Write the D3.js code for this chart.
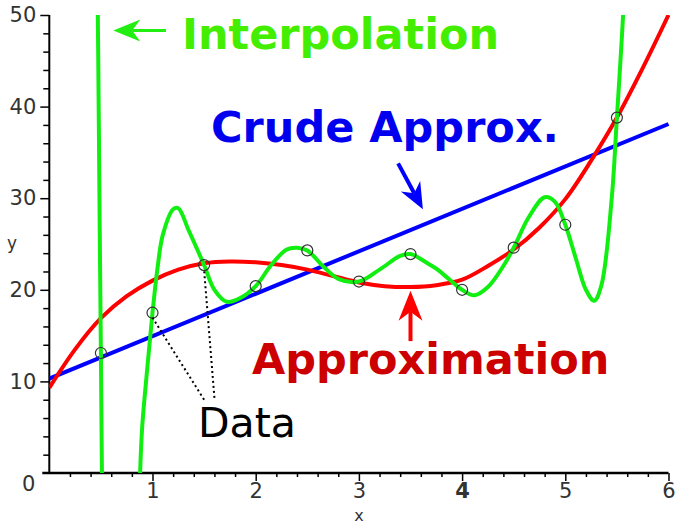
<!DOCTYPE html>
<html>
<head>
<meta charset="utf-8">
<script src="https://cdn.jsdelivr.net/npm/d3@7"></script>
<style>
body { margin: 0; background: #fff; }
.tick text { font-family: "DejaVu Sans", sans-serif; }
</style>
</head>
<body>
<div id="chart"></div>
<script>
// data points (circles)
var dataX = [0.5, 1, 1.5, 2, 2.5, 3, 3.5, 4, 4.5, 5, 5.5];
var dataY = [13.1, 17.5, 22.7, 20.4, 24.3, 20.9, 23.9, 20.0, 24.6, 27.1, 38.8];

// crude approx (straight line)
var crudeX = [0, 6];
var crudeY = [10.3, 38.1];

// approximation curve
var approxX = [0, 0.25, 0.5, 0.75, 1, 1.25, 1.5, 1.75, 2, 2.25, 2.5, 2.75, 3, 3.25, 3.5, 3.75, 4, 4.25, 4.5, 4.75, 5, 5.25, 5.5, 5.75, 6];
var approxY = [9.3, 13.5, 16.9, 19.3, 21.0, 22.2, 22.9, 23.1, 23.0, 22.7, 22.2, 21.5, 20.8, 20.4, 20.3, 20.5, 21.1, 22.6, 24.4, 26.8, 29.9, 34.1, 38.8, 44.2, 50.0];

// interpolation curve
var interpX = [0.455, 0.47, 0.48, 0.49, 0.5, 0.51, 0.52, 0.86, 0.88, 0.9, 0.95, 1.0, 1.05, 1.1, 1.2, 1.25, 1.35, 1.5, 1.6, 1.72, 1.85, 2.0, 2.15, 2.3, 2.4, 2.5, 2.65, 2.8, 3.0, 3.2, 3.4, 3.5, 3.65, 3.75, 3.88, 4.0, 4.12, 4.25, 4.4, 4.5, 4.65, 4.8, 4.9, 5.0, 5.1, 5.2, 5.28, 5.35, 5.45, 5.5, 5.56, 5.58];
var interpY = [62, 50, 38, 25, 13.1, 0, -10, -10, 0, 5, 11.5, 17.5, 22.5, 26.0, 28.8, 28.9, 26.5, 22.7, 20.0, 18.7, 19.1, 20.4, 22.7, 24.4, 24.6, 24.3, 22.6, 21.2, 20.9, 22.2, 23.7, 23.9, 23.0, 22.3, 21.1, 20.0, 19.4, 20.3, 22.6, 24.6, 28.0, 30.1, 29.6, 27.1, 23.5, 20.0, 18.8, 20.5, 30.0, 38.8, 50, 56];

var xTickLabels = ["1", "2", "3", "4", "5", "6"];
var yTickLabels = ["10", "20", "30", "40", "50"];

var svg = d3.select("#chart").append("svg").attr("width", 675).attr("height", 524);

var x = d3.scaleLinear().domain([0, 6]).range([49.3, 668.5]);
var y = d3.scaleLinear().domain([0, 50]).range([473, 15]);

svg.append("clipPath").attr("id", "plot-clip")
    .append("rect")
    .attr("x", x(0)).attr("y", y(50))
    .attr("width", x(6) - x(0) + 4).attr("height", y(0) - y(50));

// axes
var gx = svg.append("g").attr("transform", `translate(0,${y(0)})`);
gx.call(d3.axisBottom(x).tickValues(d3.range(1, 30).map(i => i / 5).filter(v => Math.abs(v - Math.round(v)) > 1e-6)).tickSize(4).tickFormat(""));
gx.call(g => g.select(".domain").remove());
var gx2 = svg.append("g").attr("transform", `translate(0,${y(0)})`);
gx2.call(d3.axisBottom(x).tickValues([1, 2, 3, 4, 5, 6]).tickSize(8).tickPadding(2).tickFormat((d, i) => xTickLabels[i]));
gx2.call(g => g.select(".domain").remove());
gx2.selectAll("text").attr("font-size", 21).attr("fill", "#333").attr("font-weight", d => d === 4 ? "bold" : "normal");

var gy = svg.append("g").attr("transform", `translate(${x(0)},0)`);
gy.call(d3.axisLeft(y).tickValues(d3.range(2, 50, 2).filter(v => v % 10 !== 0)).tickSize(6).tickFormat(""));
gy.call(g => g.select(".domain").remove());
var gy2 = svg.append("g").attr("transform", `translate(${x(0)},0)`);
gy2.call(d3.axisLeft(y).tickValues([10, 20, 30, 40, 50]).tickSize(9).tickPadding(4).tickFormat((d, i) => yTickLabels[i]));
gy2.call(g => g.select(".domain").remove());
gy2.selectAll("text").attr("font-size", 21).attr("fill", "#333");
svg.selectAll(".tick line").attr("stroke", "#000").attr("stroke-width", 1.5);

svg.append("line").attr("x1", x(0) - 7).attr("x2", x(6)).attr("y1", y(0)).attr("y2", y(0))
    .attr("stroke", "#000").attr("stroke-width", 2.5);
svg.append("line").attr("x1", x(0)).attr("x2", x(0)).attr("y1", y(50)).attr("y2", y(0))
    .attr("stroke", "#000").attr("stroke-width", 2);

svg.append("text").attr("x", x(0) - 14).attr("y", y(0) + 18).attr("text-anchor", "end")
    .attr("font-family", "DejaVu Sans, sans-serif").attr("font-size", 21).attr("fill", "#333").text("0");
svg.append("text").attr("x", (x(0) + x(6)) / 2).attr("y", 521).attr("text-anchor", "middle")
    .attr("font-family", "DejaVu Sans, sans-serif").attr("font-size", 16).attr("fill", "#333").text("x");
svg.append("text").attr("x", 12).attr("y", y(25) + 5).attr("text-anchor", "middle")
    .attr("font-family", "DejaVu Sans, sans-serif").attr("font-size", 17).attr("fill", "#333").text("y");

// curves
var line = d3.line().x(d => x(d[0])).y(d => y(d[1])).curve(d3.curveCatmullRom.alpha(0.5));
var plot = svg.append("g").attr("clip-path", "url(#plot-clip)");

plot.append("path").datum(d3.zip(crudeX, crudeY)).attr("d", line)
    .attr("fill", "none").attr("stroke", "#0000ff").attr("stroke-width", 4);
plot.append("path").datum(d3.zip(approxX, approxY)).attr("d", line)
    .attr("fill", "none").attr("stroke", "#ff0000").attr("stroke-width", 4);
plot.append("path").datum(d3.zip(interpX, interpY)).attr("d", line)
    .attr("fill", "none").attr("stroke", "#11ee11").attr("stroke-width", 4);

svg.append("g").selectAll("circle").data(d3.zip(dataX, dataY)).enter().append("circle")
    .attr("cx", d => x(d[0])).attr("cy", d => y(d[1])).attr("r", 5.5)
    .attr("fill", "none").attr("stroke", "#333").attr("stroke-width", 1.2);

// "Data" pointers
[[1, 17.5], [1.5, 22.7]].forEach(function(p, i) {
    var tx = [1.5, 1.6][i], ty = [8.0, 8.2][i];
    svg.append("line")
        .attr("x1", x(tx)).attr("y1", y(ty))
        .attr("x2", x(p[0])).attr("y2", y(p[1]) + 5)
        .attr("stroke", "#000").attr("stroke-width", 2).attr("stroke-dasharray", "2,3");
});

// arrows
function arrow(x1, y1, x2, y2, color, w, headLen, headW) {
    var ang = Math.atan2(y2 - y1, x2 - x1);
    var c = Math.cos(ang), s = Math.sin(ang);
    var bx = x2 - headLen * c, by = y2 - headLen * s;
    var mx = x2 - headLen * 0.7 * c, my = y2 - headLen * 0.7 * s;
    svg.append("line").attr("x1", x1).attr("y1", y1).attr("x2", mx).attr("y2", my)
        .attr("stroke", color).attr("stroke-width", w);
    svg.append("path")
        .attr("d", `M${x2},${y2}L${bx - headW * s},${by + headW * c}L${mx},${my}L${bx + headW * s},${by - headW * c}Z`)
        .attr("fill", color);
}
arrow(x(1.13), y(48.3), x(0.62), y(48.3), "#22ee11", 3, 27, 11);
arrow(x(3.38), y(33.8), x(3.62), y(28.8), "#0000ff", 4, 26, 11);
arrow(x(3.5), y(14.4), x(3.5), y(19.9), "#ff0000", 4, 30, 12);

// labels
svg.append("text").attr("x", 182).attr("y", 49)
    .attr("font-family", "DejaVu Sans, sans-serif").attr("font-weight", "bold").attr("font-size", 43)
    .attr("fill", "#44ee00").text("Interpolation");
svg.append("text").attr("x", 211).attr("y", 142)
    .attr("font-family", "DejaVu Sans, sans-serif").attr("font-weight", "bold").attr("font-size", 43)
    .attr("fill", "#0000ee").text("Crude Approx.");
svg.append("text").attr("x", 252).attr("y", 374)
    .attr("font-family", "DejaVu Sans, sans-serif").attr("font-weight", "bold").attr("font-size", 43)
    .attr("fill", "#cc0000").text("Approximation");
svg.append("text").attr("x", 198).attr("y", 437)
    .attr("font-family", "DejaVu Sans, sans-serif").attr("font-size", 41)
    .attr("fill", "#000").text("Data");
</script>
</body>
</html>
